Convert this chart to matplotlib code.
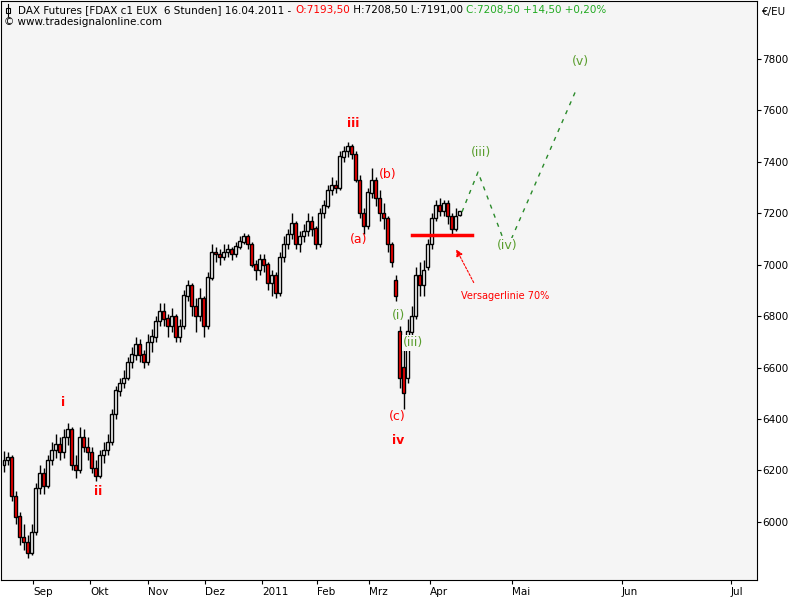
import numpy as np
import matplotlib
matplotlib.use("Agg")
import matplotlib.pyplot as plt
from matplotlib.lines import Line2D
from matplotlib.patches import Rectangle

# 6h candles (thinned out)
opens = [6220, 6240, 6250, 6100, 6020, 5940, 5920, 5880, 5960, 6130,
         6190, 6140, 6240, 6280, 6300, 6270, 6330, 6360, 6220, 6200,
         6330, 6290, 6270, 6210, 6180, 6260, 6280, 6310, 6420, 6510,
         6540, 6560, 6620, 6650, 6690, 6650, 6620, 6700, 6720, 6780,
         6820, 6790, 6760, 6800, 6720, 6760, 6880, 6920, 6840, 6800,
         6870, 6760, 6950, 7050, 7040, 7030, 7050, 7060, 7040, 7070,
         7090, 7110, 7080, 7000, 6980, 7020, 7000, 6930, 6960, 6890,
         7030, 7080, 7120, 7160, 7080, 7110, 7130, 7170, 7140, 7080,
         7200, 7230, 7290, 7310, 7300, 7420, 7440, 7460, 7430, 7330,
         7200, 7150, 7280, 7330, 7260, 7200, 7180, 7080, 6940, 6740,
         6600, 6560, 6740, 6800, 6960, 6920, 6990, 7080, 7180, 7230,
         7210, 7240, 7190, 7140, 7193.5]
highs = [6275, 6272, 6260, 6120, 6040, 5990, 5950, 5990, 6150, 6220,
         6210, 6260, 6310, 6340, 6330, 6360, 6385, 6370, 6260, 6370,
         6360, 6330, 6290, 6240, 6280, 6310, 6340, 6440, 6530, 6560,
         6590, 6640, 6680, 6720, 6710, 6670, 6730, 6750, 6800, 6850,
         6850, 6810, 6830, 6810, 6790, 6900, 6940, 6930, 6870, 6910,
         6880, 6970, 7080, 7070, 7060, 7080, 7080, 7070, 7090, 7110,
         7125, 7120, 7090, 7020, 7040, 7040, 7010, 6980, 6970, 7050,
         7110, 7140, 7200, 7170, 7130, 7160, 7200, 7190, 7150, 7220,
         7250, 7310, 7340, 7330, 7440, 7460, 7475, 7470, 7440, 7350,
         7220, 7300, 7375, 7340, 7290, 7240, 7190, 7090, 6960, 6760,
         6680, 6790, 6840, 6990, 7010, 7020, 7100, 7200, 7250, 7260,
         7250, 7250, 7200, 7220, 7208.5]
lows = [6195, 6220, 6080, 5990, 5910, 5890, 5860, 5870, 5950, 6110,
        6110, 6130, 6220, 6250, 6240, 6250, 6300, 6200, 6170, 6190,
        6270, 6240, 6190, 6160, 6170, 6230, 6260, 6300, 6400, 6490,
        6520, 6550, 6600, 6630, 6620, 6600, 6610, 6660, 6700, 6760,
        6760, 6720, 6740, 6700, 6700, 6750, 6860, 6800, 6740, 6780,
        6720, 6750, 6940, 7010, 7000, 7020, 7030, 7020, 7030, 7060,
        7080, 7060, 6990, 6940, 6960, 6970, 6900, 6880, 6870, 6880,
        7010, 7060, 7100, 7060, 7050, 7090, 7110, 7110, 7060, 7070,
        7180, 7220, 7270, 7280, 7290, 7400, 7420, 7410, 7320, 7180,
        7120, 7140, 7260, 7230, 7170, 7140, 7050, 6990, 6860, 6520,
        6440, 6540, 6720, 6790, 6880, 6880, 6980, 7060, 7170, 7190,
        7190, 7160, 7110, 7130, 7191]
closes = [6240, 6250, 6100, 6020, 5940, 5920, 5880, 5960, 6130, 6190,
          6140, 6240, 6280, 6300, 6270, 6330, 6360, 6220, 6200, 6330,
          6290, 6270, 6210, 6180, 6260, 6280, 6310, 6420, 6510, 6540,
          6560, 6620, 6650, 6690, 6650, 6620, 6700, 6720, 6780, 6820,
          6790, 6760, 6800, 6720, 6760, 6880, 6920, 6840, 6800, 6870,
          6760, 6950, 7050, 7040, 7030, 7050, 7060, 7040, 7070, 7090,
          7110, 7080, 7000, 6980, 7020, 7000, 6930, 6960, 6890, 7030,
          7080, 7120, 7160, 7080, 7110, 7130, 7170, 7140, 7080, 7200,
          7230, 7290, 7310, 7300, 7420, 7440, 7460, 7430, 7330, 7200,
          7150, 7280, 7330, 7260, 7200, 7180, 7080, 7010, 6880, 6560,
          6500, 6740, 6800, 6960, 6920, 6980, 7080, 7180, 7230, 7210,
          7240, 7190, 7140, 7190, 7208.5]

# projection path (bar index, price)
proj_idx = [114.5, 118.5, 125.75, 143.25]
proj_price = [7205, 7360, 7061, 7687]

fail_line = 7115   # Versagerlinie

month_labels = ['Sep', 'Okt', 'Nov', 'Dez', '2011', 'Feb', 'Mrz', 'Apr', 'Mai', 'Jun', 'Jul']
month_pos = [7.25, 21.5, 36, 50.25, 64.5, 78.25, 91.25, 106.5, 127, 154.5, 181.75]

red_labels = [('i', 14.75, 6466), ('ii', 23.5, 6117), ('iii', 87.25, 7547), ('iv', 98.5, 6315)]
red_small = [('(a)', 88.75, 7096), ('(b)', 96, 7349), ('(c)', 98.25, 6408)]
green_labels = [('(i)', 98.75, 6801), ('(iii)', 102.25, 6696), ('(iii)', 119.25, 7438),
                ('(iv)', 125.75, 7073), ('(v)', 144, 7788)]

##

plt.rcParams['font.family'] = ['DejaVu Sans']
fig = plt.figure(figsize=(8, 6), dpi=100)
ax = fig.add_axes([0.00125, 0.0333, 0.945, 0.965])
ax.set_facecolor('#f5f5f5')

o = np.array(opens); h = np.array(highs); l = np.array(lows); c = np.array(closes)
idx = np.arange(len(c))
up = c >= o

ax.vlines(idx, l, h, color='black', lw=1, zorder=2)
ax.bar(idx, np.abs(c - o) + 1, bottom=np.minimum(o, c), width=0.75,
       color=np.where(up, 'white', 'red'), edgecolor='black', lw=1, zorder=3)

# failure line + arrow
ax.plot([102, 117], [fail_line, fail_line], color='red', lw=2.5, zorder=4)
ax.annotate('', xy=(112.75, 7069), xytext=(117.75, 6921),
            arrowprops=dict(arrowstyle='-|>', color='red', lw=0.8,
                            linestyle=(0, (2, 1.5)), mutation_scale=10))
ax.text(125.25, 6879, 'Versagerlinie 70%', color='red', fontsize=7, ha='center', va='center')

# projection
ax.plot(proj_idx, proj_price, color='#2a8a2a', lw=1, ls=(0, (3, 4)), zorder=4)

for s, x, y in red_labels:
    ax.text(x, y, s, color='red', fontsize=9, fontweight='bold', ha='center', va='center')
for s, x, y in red_small:
    ax.text(x, y, s, color='red', fontsize=9, ha='center', va='center')
for s, x, y in green_labels:
    ax.text(x, y, s, color='#5a9e2e', fontsize=9, ha='center', va='center',
            bbox=dict(boxstyle='square,pad=0.1', fc='#f5f5f5', ec='none'), zorder=5)

ax.set_xlim(-0.75, 188.25)
ax.set_ylim(5774, 8025)

ax.yaxis.tick_right()
ax.set_yticks(np.arange(6000, 7801, 200))
ax.tick_params(axis='y', labelsize=7.5, length=3, width=0.8, pad=1)
ax.set_xticks(month_pos)
ax.set_xticklabels(month_labels, ha='left')
ax.tick_params(axis='x', labelsize=7.5, length=3, width=0.8, pad=2)
for spine in ax.spines.values():
    spine.set_linewidth(0.8)

fig.text(762 / 800, 1 - 12 / 600, '€/EU', fontsize=7.5, ha='left', va='center')

# header
t = ax.text(0.023, 0.9935, 'DAX Futures [FDAX c1 EUX  6 Stunden] 16.04.2011 - ',
            transform=ax.transAxes, fontsize=7.5, va='top', ha='left')
parts = [('O:7193,50', 'red'), (' H:7208,50 L:7191,00 ', 'black'),
         ('C:7208,50 +14,50 +0,20%', '#22aa22')]
prev = t
for s, col in parts:
    prev = ax.annotate(s, xy=(1, 0), xycoords=prev, va='bottom', ha='left',
                       fontsize=7.5, color=col)
ax.text(0.004, 0.973, '© www.tradesignalonline.com', transform=ax.transAxes,
        fontsize=7.5, va='top', ha='left')

# little candle icon
fig.add_artist(Line2D([7.5 / 800, 7.5 / 800], [1 - 4 / 600, 1 - 16 / 600],
                      color='black', lw=0.8, transform=fig.transFigure))
fig.add_artist(Rectangle((5.5 / 800, 1 - 13 / 600), 4 / 800, 5 / 600, fc='white',
                         ec='black', lw=0.8, transform=fig.transFigure))

fig.savefig('out.png', dpi=100, facecolor='white')
